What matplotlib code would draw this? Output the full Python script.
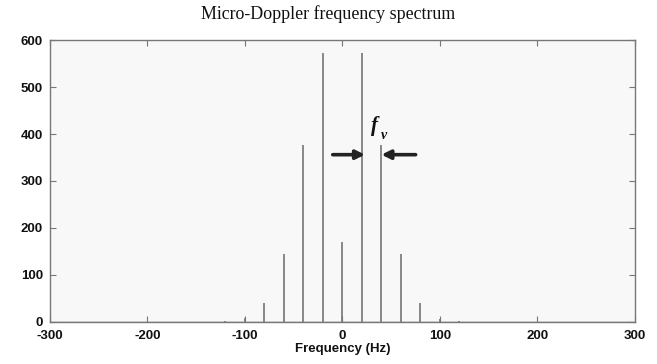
import matplotlib
matplotlib.use("Agg")
import matplotlib.pyplot as plt
import numpy as np

# Spectral lines of the micro-Doppler signature
freqs_hz = [-120, -100, -80, -60, -40, -20, 0, 20, 40, 60, 80, 100, 120]
amplitudes = [2, 8, 40, 144, 376, 572, 170, 572, 376, 144, 40, 7, 2]

xticks = [-300, -200, -100, 0, 100, 200, 300]
yticks = [0, 100, 200, 300, 400, 500, 600]

fig = plt.figure(figsize=(6.57, 3.64), dpi=100)
ax = fig.add_axes([0.0761, 0.1154, 0.8904, 0.7747])
ax.set_facecolor("#f8f8f8")

ax.vlines(freqs_hz, 0, amplitudes, color="#747474", linewidth=1.2)
ax.axhline(0, color="#6e6e6e", linewidth=1.0)

ax.set_xlim(-300, 300)
ax.set_ylim(0, 600)
ax.set_xticks(xticks)
ax.set_yticks(yticks)

tick_font = dict(family="Liberation Sans", weight="bold", size=9.5)
ax.set_xticklabels([str(t) for t in xticks], fontdict=tick_font)
ax.set_yticklabels([str(t) for t in yticks], fontdict=tick_font)
ax.tick_params(direction="in", length=4, width=0.8, color="#777777",
               top=True, right=True, labelcolor="#111111")
ax.tick_params(axis="x", pad=5.5)
ax.tick_params(axis="y", pad=5)
for s in ax.spines.values():
    s.set_color("#777777")
    s.set_linewidth(1.0)

ax.set_xlabel("Frequency (Hz)", family="Liberation Sans", weight="bold",
              size=9.5, color="#111111", labelpad=1)
fig.text(0.5, 0.947, "Micro-Doppler frequency spectrum", ha="center",
         va="baseline", family="Liberation Serif", size=12.9, color="#111111")

# Spacing between adjacent lines
arrow_y = 356
ax.annotate("", xy=(23, arrow_y), xytext=(-10, arrow_y),
            arrowprops=dict(arrowstyle="-|>", color="#222222", lw=2.6,
                            mutation_scale=13, shrinkA=0, shrinkB=0))
ax.annotate("", xy=(40, arrow_y), xytext=(75, arrow_y),
            arrowprops=dict(arrowstyle="-|>", color="#222222", lw=2.6,
                            mutation_scale=13, shrinkA=0, shrinkB=0))
ax.text(33, 418, "f", ha="center", va="center", family="Liberation Serif",
        style="italic", weight="bold", size=15, color="#111111")
ax.text(43, 396, "v", ha="center", va="center", family="Liberation Serif",
        style="italic", weight="bold", size=10, color="#111111")

fig.savefig("out.png", dpi=100)
